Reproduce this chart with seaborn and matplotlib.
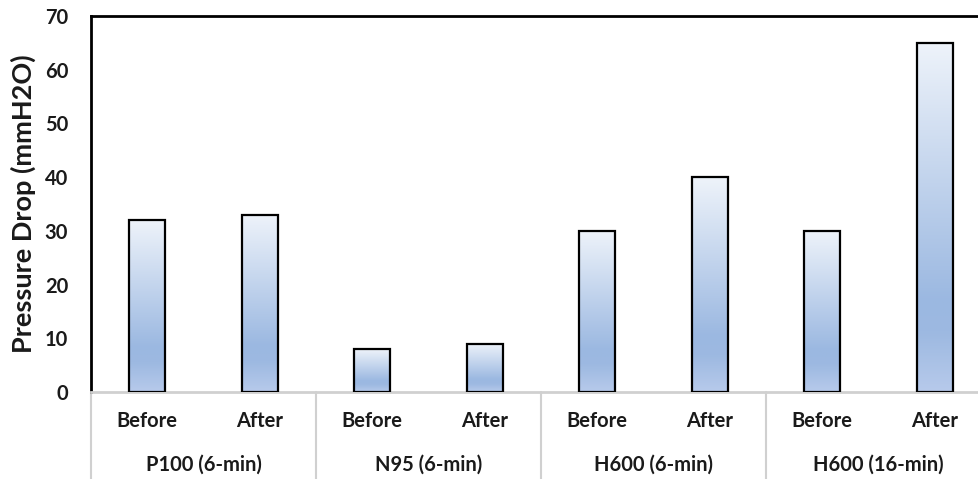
import numpy as np
import pandas as pd
import matplotlib
matplotlib.use("Agg")
import matplotlib.pyplot as plt
from matplotlib.colors import LinearSegmentedColormap
import matplotlib.transforms as mtransforms
import seaborn as sns

groups = ["P100 (6-min)", "N95 (6-min)", "H600 (6-min)", "H600 (16-min)"]
phases = ["Before", "After"]
values = [32, 33, 8, 9, 30, 40, 30, 65]
yticks = [0, 10, 20, 30, 40, 50, 60, 70]
ylabel = "Pressure Drop (mmH2O)"

slots = [f"{g}|{p}" for g in groups for p in phases]
df = pd.DataFrame({"slot": slots, "value": values})

sns.set_theme(style="white")
plt.rcParams['font.family'] = ['Lato', 'DejaVu Sans']
plt.rcParams['font.weight'] = 'bold'

fig = plt.figure(figsize=(9.79, 4.79), dpi=100)
W, H = 979, 479
x0, x1 = 91, 991
y_top, y_bot = 16, 392
ax = fig.add_axes([x0 / W, 1 - y_bot / H, (x1 - x0) / W, (y_bot - y_top) / H])

sns.barplot(data=df, x="slot", y="value", order=slots, width=0.32,
            facecolor="none", edgecolor="black", linewidth=1.6, ax=ax, zorder=3)

ax.set_ylim(0, 70)
ax.set_xlim(-0.5, len(slots) - 0.5)
ax.set_yticks(yticks)
ax.set_yticklabels([str(t) for t in yticks], fontsize=14.5, fontweight="bold", color="#1a1a1a")
ax.tick_params(axis="y", direction="in", length=5, width=1.5, color="black", pad=16.5)
ax.set_xticks([])
ax.set_xlabel("")
ax.set_ylabel(ylabel, fontsize=19.5, fontweight="bold", color="#1a1a1a")
ax.yaxis.set_label_coords((36 - x0) / (x1 - x0), 0.5)

cmap = LinearSegmentedColormap.from_list("grad", [
    (0.0, (238/255, 243/255, 250/255)),
    (0.74, (155/255, 184/255, 225/255)),
    (0.83, (157/255, 185/255, 225/255)),
    (1.0, (183/255, 202/255, 235/255)),
])
grad = np.linspace(0, 1, 256).reshape(-1, 1)
for p in ax.patches:
    bx, by = p.get_x(), p.get_y()
    bw, bh = p.get_width(), p.get_height()
    im = ax.imshow(grad, cmap=cmap, aspect="auto", origin="upper",
                   extent=[bx, bx + bw, by, by + bh], zorder=2, interpolation="bilinear")
    im.set_clip_path(p)
ax.set_xlim(-0.5, len(slots) - 0.5)
ax.set_ylim(0, 70)

for s in ["top", "left"]:
    ax.spines[s].set_visible(True)
    ax.spines[s].set_color("black")
    ax.spines[s].set_linewidth(2)
ax.spines["right"].set_visible(False)
ax.spines["bottom"].set_color("#d0d0d0")
ax.spines["bottom"].set_linewidth(2)

trans = mtransforms.blended_transform_factory(ax.transData, ax.transAxes)
axh = (y_bot - y_top)
for i, s in enumerate(slots):
    ax.text(i, -(421 - y_bot) / axh, s.split("|")[1], transform=trans,
            ha="center", va="center", fontsize=14.5, fontweight="bold", color="#1a1a1a")
for gi, g in enumerate(groups):
    ax.text(gi * 2 + 0.5, -(465 - y_bot) / axh, g, transform=trans,
            ha="center", va="center", fontsize=14.5, fontweight="bold", color="#1a1a1a")
for gi in range(len(groups) + 1):
    xs = gi * 2 - 0.5
    ax.plot([xs, xs], [0, -(H - y_bot) / axh - 0.01], transform=trans,
            color="#d0d0d0", lw=1.5, clip_on=False, zorder=1)

fig.savefig("out.png", dpi=100)
